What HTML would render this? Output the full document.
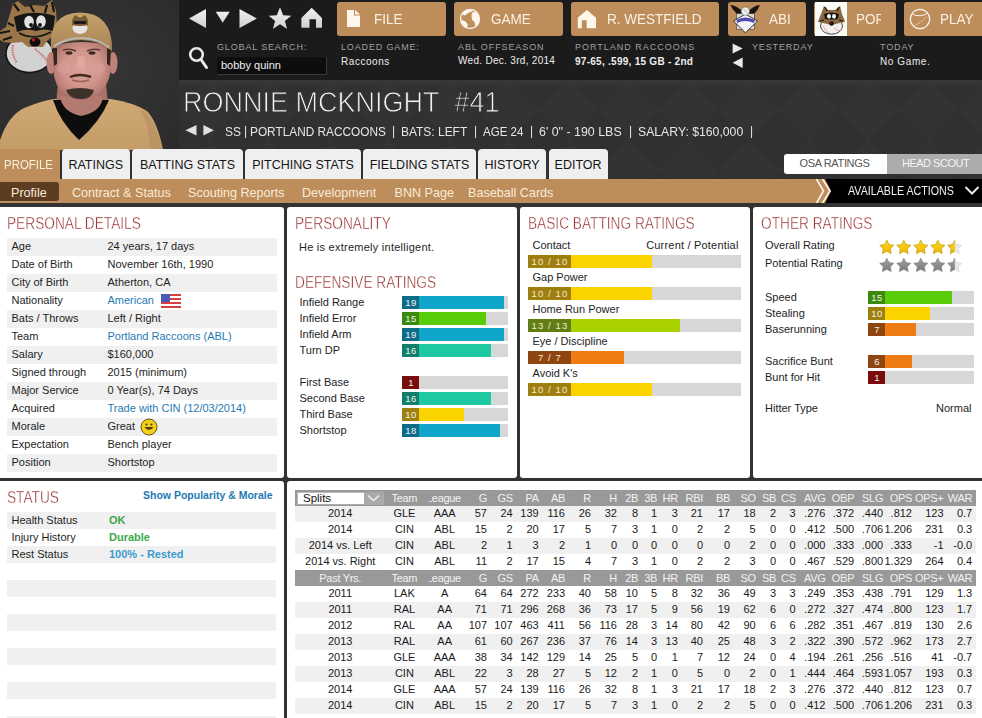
<!DOCTYPE html><html><head><meta charset="utf-8"><style>
*{margin:0;padding:0;box-sizing:border-box}
html,body{width:982px;height:718px;overflow:hidden;background:#333}
body{position:relative;font-family:"Liberation Sans",sans-serif;color:#111}
.ab{position:absolute;white-space:nowrap}
.btn{position:absolute;top:2px;height:34px;background:#be8d5c;border-radius:3px;overflow:hidden}
.btxt{position:absolute;top:8px;font-size:15px;color:#fbf1e2;white-space:nowrap;transform:scaleX(0.9);transform-origin:0 0}
.lbl{position:absolute;top:42px;font-size:9px;color:#a0a0a0;letter-spacing:0.85px;white-space:nowrap}
.val{position:absolute;top:55.5px;font-size:10px;color:#ededed;font-weight:bold;letter-spacing:0.1px;white-space:nowrap}
.tab{position:absolute;top:149px;height:30px;background:#efefef;border-radius:4px 4px 0 0;font-size:12.5px;color:#151515;line-height:32px;text-align:center;white-space:nowrap}
.sub{position:absolute;top:185.5px;font-size:12.6px;color:#f9ebd6;white-space:nowrap}
.panel{position:absolute;background:#fff;border-radius:3px;overflow:hidden}
.h2{position:absolute;margin-top:1px;font-size:16px;color:#952828;-webkit-text-stroke:0.4px #fff;white-space:nowrap;transform:scaleX(0.855);transform-origin:0 0}
.rw{position:absolute;height:18px;font-size:11px;line-height:16px;color:#1e1e1e;white-space:nowrap}
.g{background:#f0f0f0}
.lk{color:#1f7ab4}
.tx{position:absolute;margin-top:-1px;font-size:11px;color:#1e1e1e;white-space:nowrap}
.bar{position:absolute;height:13px;background:#d7d7d7}
.bar i{position:absolute;left:0;top:0;height:13px;display:block}
.bar b{position:absolute;left:0;top:0;height:13px;width:17px;font-weight:normal;font-size:9.5px;color:#eef4f0;text-align:center;line-height:13px;padding-left:1px;letter-spacing:0.4px}
.bb{position:absolute;height:13px;background:#d7d7d7}
.bb i{position:absolute;left:0;top:0;height:13px;display:block}
.bb b{position:absolute;left:0;top:0;height:13px;width:43px;font-weight:normal;font-size:9.5px;color:#f2ecd0;text-align:center;line-height:13px;letter-spacing:1.1px;padding-left:1px}
.tr{position:absolute;left:295px;width:681px;height:16px}
.c{position:absolute;top:-1px;font-size:11px;line-height:16px;color:#1a1a1a;white-space:nowrap}
.hd .c{color:#f3f3f3;font-size:11px;top:0;letter-spacing:-0.3px}
</style></head><body>

<div class="ab" style="left:0;top:0;width:982px;height:179px;background:#303030"></div>
<svg class="ab" style="left:179px;top:80px" width="803" height="100"><defs><pattern id="dp" width="60" height="60" patternUnits="userSpaceOnUse"><path d="M30 0 L60 30 L30 60 L0 30Z" fill="#333333"/></pattern><linearGradient id="tg" x1="0" y1="0" x2="0" y2="1"><stop offset="0" stop-color="#3a3a3a" stop-opacity="0.8"/><stop offset="1" stop-color="#3a3a3a" stop-opacity="0"/></linearGradient></defs><rect width="803" height="100" fill="url(#dp)"/><rect width="803" height="8" fill="url(#tg)"/></svg>
<svg class="ab" style="left:0;top:0" width="179" height="150" viewBox="0 0 179 150">
<defs>
<radialGradient id="sk" cx="0.5" cy="0.45" r="0.6"><stop offset="0" stop-color="#dba29a"/><stop offset="0.55" stop-color="#d0948c"/><stop offset="0.85" stop-color="#b57a70"/><stop offset="1" stop-color="#8e5a52"/></radialGradient>
<linearGradient id="sh" x1="0" y1="0" x2="0" y2="1"><stop offset="0" stop-color="#cfa873"/><stop offset="1" stop-color="#c39c68"/></linearGradient>
<linearGradient id="cp" x1="0" y1="0" x2="0" y2="1"><stop offset="0" stop-color="#c4a06a"/><stop offset="1" stop-color="#a88455"/></linearGradient>
<filter id="soft" x="-5%" y="-5%" width="110%" height="110%"><feGaussianBlur stdDeviation="0.5"/></filter><radialGradient id="bgp" cx="0.5" cy="0.45" r="0.75"><stop offset="0" stop-color="#363636"/><stop offset="1" stop-color="#2b2b2b"/></radialGradient>
</defs>
<rect width="179" height="150" fill="url(#bgp)"/>
<g filter="url(#soft)">
<!-- raccoon logo -->
<ellipse cx="29.5" cy="53.5" rx="23.5" ry="19" fill="#d2d2d2" stroke="#151515" stroke-width="1.6"/>
<path d="M13 45 Q11 54 17 63" stroke="#c66" stroke-width="2.2" fill="none" stroke-dasharray="1.2 1.2"/>
<path d="M35 49 Q43 55 48 62" stroke="#c66" stroke-width="2.2" fill="none" stroke-dasharray="1.2 1.2"/>
<path d="M13 4 L18 1 L25 7 L35 5 L44 6 L52 0 L56 10 L57 26 L53 36 L47 41 L43 47 L28 47 L22 42 L12 43 L4 42 L0 40 L0 31 L6 27 L9 17Z" fill="#9a7448"/>
<path d="M14 4 L19 11 M47 5 L45 13 M52 2 L54 12 M0 33 L10 31 M3 40 L12 37 M8 23 L14 26 M30 5 L34 12" stroke="#151515" stroke-width="2.2"/>
<path d="M14 17 Q32 9 55 16 L53 31 Q44 28 36 31 Q26 28 17 32Z" fill="#151515"/>
<ellipse cx="29" cy="22" rx="4.8" ry="6.2" fill="#e2e2e2"/><ellipse cx="41" cy="21.5" rx="4.8" ry="6.2" fill="#e2e2e2"/>
<circle cx="31" cy="25" r="1.9" fill="#111"/><circle cx="40" cy="25" r="1.9" fill="#111"/>
<path d="M19 33 Q34 41 51 32" stroke="#151515" stroke-width="1.5" fill="none"/>
<ellipse cx="35" cy="42" rx="5.5" ry="4.6" fill="#0e0e0e"/><circle cx="33.5" cy="39.8" r="1.6" fill="#c22"/>
<!-- shirt -->
<path d="M0 150 L0 140 Q8 116 24 108 Q44 100 54 99 L110 99 Q136 103 148 112 Q158 124 163 150Z" fill="url(#sh)"/>
<path d="M146 112 Q156 124 163 150 L150 150 Q150 126 140 110Z" fill="#b48e60" opacity="0.6"/>
<!-- neck -->
<path d="M58 84 L106 84 L108 104 Q82 112 56 104Z" fill="#a9716a"/>
<path d="M53 100 L109 100 Q100 122 79 140 Q60 122 53 100Z" fill="#0b0b0b"/>
<path d="M60 96 L103 96 Q102 112 81 116 Q62 112 60 96Z" fill="#b27a70"/>
<!-- ears -->
<ellipse cx="51" cy="63" rx="4.5" ry="11" fill="#bf8178"/><ellipse cx="113" cy="63" rx="4.5" ry="11" fill="#bf8178"/>
<!-- face -->
<path d="M53 46 Q82 38 111 46 L111 70 Q108 88 97 95 Q88 100 81 100 Q73 100 65 95 Q55 88 53 70Z" fill="url(#sk)"/>
<path d="M53 48 L57 48 L57 64 L54 66Z M111 48 L107 48 L107 64 L110 66Z" fill="#35261f"/>
<path d="M63 50 Q70 48 76 51 M87 51 Q93 48 100 50" stroke="#5a3a30" stroke-width="1.6" fill="none"/>
<ellipse cx="69" cy="53" rx="3.5" ry="1.7" fill="#3e2822"/><ellipse cx="92" cy="53" rx="3.5" ry="1.7" fill="#3e2822"/>
<path d="M78 56 L76 67 Q81 70 86 67 L84 56" fill="#dfa79e"/>
<ellipse cx="64" cy="68" rx="7" ry="6" fill="#e0a0a0" opacity="0.5"/><ellipse cx="98" cy="68" rx="7" ry="6" fill="#e0a0a0" opacity="0.5"/>
<path d="M70 77 Q80 73 91 77" stroke="#402a24" stroke-width="2.4" fill="none"/>
<path d="M72 80 Q81 83 89 80" stroke="#a0605a" stroke-width="1.6" fill="none"/>
<path d="M66 90 Q80 86 94 90 Q92 99 81 99 Q69 99 66 90Z" fill="#3c302c"/>
<!-- cap -->
<path d="M51 50 Q48 13 80 12.5 Q113 13 112 51 Q100 40 81 40 Q62 40 51 50Z" fill="url(#cp)"/>
<path d="M54 48 Q66 39 81 39 Q98 39 109 49 L109 46 Q96 37 81 37 Q66 37 54 45Z" fill="#b8b8b0"/>
<ellipse cx="80" cy="28" rx="7.5" ry="6" fill="#e4e4e4"/>
<path d="M72 20 L75 15 L80 18 L85 15 L88 20 L88 25 Q80 27 72 25Z" fill="#7a5a30"/>
<path d="M74 21 L86 21 L86 24 L74 24Z" fill="#1a1a1a"/>
</g></svg>
<div class="ab" style="left:179px;top:0;width:803px;height:80px;background:#1b1b1b"></div>
<svg class="ab" style="left:179px;top:0" width="160" height="79">
<defs><linearGradient id="ic" x1="0" y1="0" x2="0" y2="1"><stop offset="0" stop-color="#f2f2f2"/><stop offset="1" stop-color="#cfcfcf"/></linearGradient></defs>
<path d="M10 18.5 L27 9 L27 28Z" fill="url(#ic)"/>
<path d="M36.8 11.7 L50.7 11.7 L43.7 22.8Z" fill="url(#ic)"/>
<path d="M60.5 9 L77.9 18.5 L60.5 28Z" fill="url(#ic)"/>
<path d="M101 7.3 L104.1 15.3 L112.3 15.7 L105.9 20.9 L108.1 29 L101 24.3 L93.9 29 L96.1 20.9 L89.7 15.7 L97.9 15.3Z" fill="url(#ic)"/>
<path d="M122.4 17.9 L132.7 7.8 L143 17.9 L143 27.7 L137 27.7 L137 19.2 L130.5 19.2 L130.5 27.7 L122.4 27.7Z" fill="url(#ic)"/>
<circle cx="17.5" cy="54.5" r="6.3" stroke="#eaeaea" stroke-width="2.6" fill="none"/>
<path d="M22 59.5 L27.5 67.5" stroke="#eaeaea" stroke-width="3" stroke-linecap="round"/>
</svg>
<div class="btn" style="left:337px;width:109px"><span class="btxt" style="left:37px">FILE</span></div>
<div class="btn" style="left:454px;width:109px"><span class="btxt" style="left:37px">GAME</span></div>
<div class="btn" style="left:571px;width:148px"><span class="btxt" style="left:36px">R. WESTFIELD</span></div>
<div class="btn" style="left:728px;width:78px"><span class="btxt" style="left:41px">ABI</span></div>
<div class="btn" style="left:814px;width:82px"><div style="position:absolute;left:42px;top:0;width:25px;height:34px;overflow:hidden"><span class="btxt" style="left:0">POR</span></div></div>
<div class="btn" style="left:904px;width:90px"><span class="btxt" style="left:36px">PLAY</span></div>
<svg class="ab" style="left:337px;top:0" width="645" height="38">
<path d="M10 10 L17 10 L17 15.5 L23 15.5 L23 27 L10 27Z" fill="#fdf6ea"/>
<path d="M18 10 L23 14.5 L18 14.5Z" fill="#fdf6ea"/>
<circle cx="133" cy="19" r="9.5" stroke="#fdf6ea" stroke-width="1.3" fill="none"/>
<path d="M125.5 13 Q129 9.5 134 9.5 L135 11.5 L131 13 L128 15.5 L126 15Z" fill="#fdf6ea"/><path d="M124 19.5 L128.5 21.5 L131 24.5 L129.5 28.5 Q125 26 124 19.5Z" fill="#fdf6ea"/>
<path d="M135 12.5 L139 12 L141.5 15 L142.5 19 L141 24 L138.5 26.5 L137.5 22 L135 20 L134.5 16Z" fill="#fdf6ea"/>
<path d="M240.8 17.8 L249.9 10 L259 17.8 L259 28.2 L249.7 28.2 L249.7 20.3 L244.8 20.3 L244.8 28.2 L240.8 28.2Z" fill="#fdf6ea"/>
<circle cx="583" cy="19" r="9.7" stroke="#fdf6ea" stroke-width="1.3" fill="none"/>
<path d="M575 14 Q583 18 591 13" stroke="#fdf6ea" stroke-width="1" fill="none"/>
<path d="M577 26 Q585 22 590 16" stroke="#fdf6ea" stroke-width="1" fill="none" stroke-dasharray="1 1"/>
</svg>
<svg class="ab" style="left:726px;top:2px" width="40" height="34">
<path d="M4.3 2.8 Q10 3 19.4 11.8 L15 14 Q8 11 4.3 2.8Z" fill="#1c1410"/>
<path d="M33.9 3 Q28 3 19.4 11.8 L24 14 Q31 11 33.9 3Z" fill="#1c1410"/>
<rect x="10.4" y="11.6" width="18" height="16" fill="#d8d8d8" stroke="#3a3028" stroke-width="0.6"/>
<path d="M7.6 19 L19.4 12.1 L31.5 19 L19.4 30.8Z" fill="#f4f4f8" stroke="#2a2420" stroke-width="0.9"/>
<path d="M10.5 18 Q19 13 29 18 L28 21 Q19 17 11 21Z" fill="#5048b4"/>
<circle cx="19.4" cy="9.2" r="4.2" fill="#ededed" stroke="#555" stroke-width="0.5"/>
<path d="M17 6.5 L22 11.5" stroke="#999" stroke-width="0.6"/>
</svg>
<svg class="ab" style="left:814.5px;top:2px" width="32.5" height="34">
<rect width="32.5" height="34" fill="#fbfbf8"/>
<ellipse cx="16.5" cy="24" rx="11" ry="8.2" fill="#f4f0f0" stroke="#333" stroke-width="0.9"/>
<path d="M8 24 Q10 29 14 31 M19 26 Q23 30 27 28" stroke="#e0a0a0" stroke-width="0.9" fill="none"/>
<path d="M9 4 L13 8 L20 8 L25 4 L27 12 L29 17 L30 20 L25 21 L16.5 23 L8 21 L3 20 L4 17 L6 12Z" fill="#8c6a44"/>
<path d="M10 5 L12 9 M24 5 L22 9 M5 19 L9 18 M28 19 L24 18" stroke="#1a1410" stroke-width="1.2"/>
<path d="M9 12 Q16.5 9 24 12 L23 17 Q16.5 18 10 17Z" fill="#1a1410"/>
<ellipse cx="14" cy="14.3" rx="2" ry="2.4" fill="#f2f2f2"/><ellipse cx="19" cy="14.3" rx="2" ry="2.4" fill="#f2f2f2"/>
<circle cx="16.5" cy="21.5" r="2.2" fill="#120808"/><circle cx="16" cy="21" r="0.8" fill="#a02020"/>
</svg>
<span class="lbl" style="left:217px">GLOBAL SEARCH:</span>
<div class="ab" style="left:217px;top:57px;width:110px;height:18px;background:#0d0d0d;border:1px solid #3a3a3a;border-top-color:#111;border-left-color:#111"></div>
<span class="ab" style="left:221px;top:59px;font-size:11px;color:#f0f0f0">bobby quinn</span>
<span class="lbl" style="left:341px">LOADED GAME:</span><span class="val" style="left:341px;font-weight:normal;letter-spacing:0.55px">Raccoons</span>
<span class="lbl" style="left:458px;letter-spacing:0.91px">ABL OFFSEASON</span><span class="val" style="left:458px;letter-spacing:0.3px;font-weight:normal;font-size:10px;top:55px">Wed. Dec. 3rd, 2014</span>
<span class="lbl" style="left:575px;letter-spacing:0.99px">PORTLAND RACCOONS</span><span class="val" style="left:575px;letter-spacing:0.27px">97-65, .599, 15 GB - 2nd</span>
<span class="lbl" style="left:752px">YESTERDAY</span>
<span class="lbl" style="left:880px">TODAY</span><span class="val" style="left:880px;font-weight:normal;letter-spacing:0.6px">No Game.</span>
<svg class="ab" style="left:730px;top:40px" width="16" height="32">
<path d="M2.6 3.6 L12.7 8.5 L2.6 13.4Z" fill="#eaeaea"/>
<path d="M12.7 17.4 L2.6 22.7 L12.7 28Z" fill="#eaeaea"/>
</svg>
<span class="ab" style="left:183px;top:84.5px;font-size:30px;color:#f2f2f2;-webkit-text-stroke:0.9px #313131;transform:scaleX(0.9);transform-origin:0 0">RONNIE MCKNIGHT&nbsp; #41</span>
<svg class="ab" style="left:180px;top:120px" width="40" height="20">
<path d="M5.4 10.2 L16.5 5 L16.5 15.4Z" fill="#e0e0e0"/>
<path d="M23.4 5 L33.8 10.2 L23.4 15.4Z" fill="#e0e0e0"/>
</svg>
<span class="ab" style="left:224.5px;top:124px;font-size:13px;color:#e6e6e6;transform:scaleX(0.92);transform-origin:0 0">SS</span><span class="ab" style="left:244.0px;top:123px;font-size:13px;color:#e6e6e6;transform:scaleX(0.92);transform-origin:0 0">|</span><span class="ab" style="left:250px;top:124px;font-size:13px;color:#e6e6e6;transform:scaleX(0.911);transform-origin:0 0">PORTLAND RACCOONS</span><span class="ab" style="left:391.8px;top:123px;font-size:13px;color:#e6e6e6;transform:scaleX(0.92);transform-origin:0 0">|</span><span class="ab" style="left:401px;top:124px;font-size:13px;color:#e6e6e6;transform:scaleX(0.92);transform-origin:0 0">BATS: LEFT</span><span class="ab" style="left:473.6px;top:123px;font-size:13px;color:#e6e6e6;transform:scaleX(0.92);transform-origin:0 0">|</span><span class="ab" style="left:482.5px;top:124px;font-size:13px;color:#e6e6e6;transform:scaleX(0.889);transform-origin:0 0">AGE 24</span><span class="ab" style="left:529.5px;top:123px;font-size:13px;color:#e6e6e6;transform:scaleX(0.92);transform-origin:0 0">|</span><span class="ab" style="left:538.5px;top:124px;font-size:13px;color:#e6e6e6;transform:scaleX(0.9545);transform-origin:0 0">6&#39; 0&quot; - 190 LBS</span><span class="ab" style="left:628.8px;top:123px;font-size:13px;color:#e6e6e6;transform:scaleX(0.92);transform-origin:0 0">|</span><span class="ab" style="left:637.5px;top:124px;font-size:13px;color:#e6e6e6;transform:scaleX(0.941);transform-origin:0 0">SALARY: $160,000</span><span class="ab" style="left:750.0px;top:123px;font-size:13px;color:#e6e6e6;transform:scaleX(0.92);transform-origin:0 0">|</span>
<div class="ab" style="left:0;top:149px;width:60px;height:30px;background:#be8d5c"></div>
<span class="ab" style="left:3.5px;top:157px;font-size:13px;color:#fbf0e0;transform:scaleX(0.88);transform-origin:0 0">PROFILE</span>
<div class="tab" style="left:61.5px;width:68.5px">RATINGS</div>
<div class="tab" style="left:132px;width:111px">BATTING STATS</div>
<div class="tab" style="left:245px;width:116px">PITCHING STATS</div>
<div class="tab" style="left:363px;width:113px">FIELDING STATS</div>
<div class="tab" style="left:478px;width:68px">HISTORY</div>
<div class="tab" style="left:548.5px;width:59.10000000000002px">EDITOR</div>
<div class="ab" style="left:887px;top:153.5px;width:95px;height:20px;background:#acacac"></div>
<div class="ab" style="left:784px;top:153.5px;width:103px;height:20px;background:#fff;border-radius:3px 0 0 3px"></div>
<span class="ab" style="left:799.5px;top:157px;font-size:11px;color:#555;letter-spacing:-0.35px;transform:scaleX(1);">OSA RATINGS</span>
<span class="ab" style="left:902px;top:157px;font-size:11px;color:#f4f4f4;letter-spacing:-0.5px">HEAD SCOUT</span>
<div class="ab" style="left:0;top:179px;width:982px;height:24px;background:#000"></div>
<svg class="ab" style="left:0;top:179px" width="982" height="24">
<path d="M0 0 L825 0 L831 12 L825 24 L0 24Z" fill="#be8d5c"/>
<path d="M816.5 0 L823.5 12 L816.5 24" stroke="#fff6ea" stroke-width="1.6" fill="none"/>
<path d="M822.5 0 L830 12 L822.5 24" stroke="#fff6ea" stroke-width="1.6" fill="none"/>
<path d="M965.5 8 L972 14.5 L978.5 8" stroke="#e8e8e8" stroke-width="2" fill="none"/>
</svg>
<div class="ab" style="left:0;top:182px;width:59px;height:19px;background:#5c3d22;border-radius:0 3px 3px 0"></div>
<span class="sub" style="left:11px">Profile</span>
<span class="sub" style="left:72px">Contract &amp; Status</span>
<span class="sub" style="left:188px">Scouting Reports</span>
<span class="sub" style="left:302px">Development</span>
<span class="sub" style="left:394.5px">BNN Page</span>
<span class="sub" style="left:468px">Baseball Cards</span>
<span class="ab" style="left:848px;top:183.5px;font-size:12px;color:#f2f2f2;transform:scaleX(0.89);transform-origin:0 0">AVAILABLE ACTIONS</span>
<div class="ab" style="left:0;top:203px;width:982px;height:515px;background:#333"></div>
<div class="panel" style="left:0;top:207px;width:284px;height:271px;border-radius:0 3px 3px 0"></div>
<div class="panel" style="left:287px;top:207px;width:230px;height:271px"></div>
<div class="panel" style="left:520px;top:207px;width:230px;height:271px"></div>
<div class="panel" style="left:753px;top:207px;width:229px;height:271px;border-radius:3px 0 0 3px"></div>
<div class="panel" style="left:0;top:481px;width:284px;height:237px;border-radius:0 3px 0 0"></div>
<div class="panel" style="left:287px;top:481px;width:695px;height:237px;border-radius:3px 0 0 0"></div>
<span class="h2" style="left:7px;top:214px">PERSONAL DETAILS</span>
<div class="rw g" style="left:7px;top:238px;width:270px"><span style="position:absolute;left:4.5px">Age</span><span style="position:absolute;left:100.5px">24 years, 17 days</span></div>
<div class="rw" style="left:7px;top:256px;width:270px"><span style="position:absolute;left:4.5px">Date of Birth</span><span style="position:absolute;left:100.5px">November 16th, 1990</span></div>
<div class="rw g" style="left:7px;top:274px;width:270px"><span style="position:absolute;left:4.5px">City of Birth</span><span style="position:absolute;left:100.5px">Atherton, CA</span></div>
<div class="rw" style="left:7px;top:292px;width:270px"><span style="position:absolute;left:4.5px">Nationality</span><span style="position:absolute;left:100.5px"><span class="lk">American</span></span></div>
<div class="rw g" style="left:7px;top:310px;width:270px"><span style="position:absolute;left:4.5px">Bats / Throws</span><span style="position:absolute;left:100.5px">Left / Right</span></div>
<div class="rw" style="left:7px;top:328px;width:270px"><span style="position:absolute;left:4.5px">Team</span><span style="position:absolute;left:100.5px"><span class="lk">Portland Raccoons (ABL)</span></span></div>
<div class="rw g" style="left:7px;top:346px;width:270px"><span style="position:absolute;left:4.5px">Salary</span><span style="position:absolute;left:100.5px">$160,000</span></div>
<div class="rw" style="left:7px;top:364px;width:270px"><span style="position:absolute;left:4.5px">Signed through</span><span style="position:absolute;left:100.5px">2015 (minimum)</span></div>
<div class="rw g" style="left:7px;top:382px;width:270px"><span style="position:absolute;left:4.5px">Major Service</span><span style="position:absolute;left:100.5px">0 Year(s), 74 Days</span></div>
<div class="rw" style="left:7px;top:400px;width:270px"><span style="position:absolute;left:4.5px">Acquired</span><span style="position:absolute;left:100.5px"><span class="lk">Trade with CIN (12/03/2014)</span></span></div>
<div class="rw g" style="left:7px;top:418px;width:270px"><span style="position:absolute;left:4.5px">Morale</span><span style="position:absolute;left:100.5px">Great</span></div>
<div class="rw" style="left:7px;top:436px;width:270px"><span style="position:absolute;left:4.5px">Expectation</span><span style="position:absolute;left:100.5px">Bench player</span></div>
<div class="rw g" style="left:7px;top:454px;width:270px"><span style="position:absolute;left:4.5px">Position</span><span style="position:absolute;left:100.5px">Shortstop</span></div>
<svg class="ab" style="left:161px;top:294px" width="20" height="14">
<rect width="20" height="14" rx="1.5" fill="#fff"/>
<rect y="0" width="20" height="2" fill="#d8403f"/><rect y="4" width="20" height="2" fill="#d8403f"/><rect y="8" width="20" height="2" fill="#d8403f"/><rect y="12" width="20" height="2" fill="#d8403f"/>
<rect width="9" height="8" fill="#4a5bb5"/>
</svg>
<svg class="ab" style="left:140px;top:418px" width="18" height="18">
<circle cx="9" cy="9" r="8" fill="#f2cf1a" stroke="#6a5a10" stroke-width="1"/>
<path d="M4.5 9 Q9 15 13.5 9Z" fill="#5a3a10"/>
<circle cx="6.5" cy="6.5" r="1" fill="#333"/><circle cx="11.5" cy="6.5" r="1" fill="#333"/>
</svg>
<span class="h2" style="left:295px;top:214px">PERSONALITY</span>
<span class="tx" style="left:299px;top:242px;letter-spacing:0.25px">He is extremely intelligent.</span>
<span class="h2" style="left:295px;top:273px">DEFENSIVE RATINGS</span>
<span class="tx" style="left:299.5px;top:296px;line-height:14px">Infield Range</span>
<div class="bar" style="left:402px;top:296px;width:106px"><i style="width:102.0px;background:#0fa6c9"></i><b style="background:#0e6c88">19</b></div>
<span class="tx" style="left:299.5px;top:312px;line-height:14px">Infield Error</span>
<div class="bar" style="left:402px;top:312px;width:106px"><i style="width:84.0px;background:#5acd0a"></i><b style="background:#3b8a0c">15</b></div>
<span class="tx" style="left:299.5px;top:328px;line-height:14px">Infield Arm</span>
<div class="bar" style="left:402px;top:328px;width:106px"><i style="width:102.0px;background:#0fa6c9"></i><b style="background:#0e6c88">19</b></div>
<span class="tx" style="left:299.5px;top:344px;line-height:14px">Turn DP</span>
<div class="bar" style="left:402px;top:344px;width:106px"><i style="width:88.5px;background:#1ec8a0"></i><b style="background:#137e69">16</b></div>
<span class="tx" style="left:299.5px;top:376px;line-height:14px">First Base</span>
<div class="bar" style="left:402px;top:376px;width:106px"><i style="width:17px;background:#7a0c0c"></i><b style="background:#7a0c0c">1</b></div>
<span class="tx" style="left:299.5px;top:392px;line-height:14px">Second Base</span>
<div class="bar" style="left:402px;top:392px;width:106px"><i style="width:88.5px;background:#1ec8a0"></i><b style="background:#137e69">16</b></div>
<span class="tx" style="left:299.5px;top:408px;line-height:14px">Third Base</span>
<div class="bar" style="left:402px;top:408px;width:106px"><i style="width:61.5px;background:#fbd300"></i><b style="background:#9f7f0e">10</b></div>
<span class="tx" style="left:299.5px;top:424px;line-height:14px">Shortstop</span>
<div class="bar" style="left:402px;top:424px;width:106px"><i style="width:97.5px;background:#0fa6c9"></i><b style="background:#0e6c88">18</b></div>
<span class="h2" style="left:528px;top:214px">BASIC BATTING RATINGS</span>
<span class="tx" style="left:738.6px;top:240px;letter-spacing:0.2px;transform:translateX(-100%)">Current / Potential</span>
<span class="tx" style="left:532.5px;top:239px;line-height:14px">Contact</span>
<div class="bb" style="left:528px;top:255px;width:213px"><i style="width:124.0px;background:#fbd300"></i><b style="background:#9f7f0e">10 / 10</b></div>
<span class="tx" style="left:532.5px;top:271px;line-height:14px">Gap Power</span>
<div class="bb" style="left:528px;top:287px;width:213px"><i style="width:124.0px;background:#fbd300"></i><b style="background:#9f7f0e">10 / 10</b></div>
<span class="tx" style="left:532.5px;top:303px;line-height:14px">Home Run Power</span>
<div class="bb" style="left:528px;top:319px;width:213px"><i style="width:151.6px;background:#a9d000"></i><b style="background:#607e14">13 / 13</b></div>
<span class="tx" style="left:532.5px;top:335px;line-height:14px">Eye / Discipline</span>
<div class="bb" style="left:528px;top:351px;width:213px"><i style="width:96.39999999999999px;background:#ef7c13"></i><b style="background:#8e4510">7 / 7</b></div>
<span class="tx" style="left:532.5px;top:367px;line-height:14px">Avoid K's</span>
<div class="bb" style="left:528px;top:383px;width:213px"><i style="width:124.0px;background:#fbd300"></i><b style="background:#9f7f0e">10 / 10</b></div>
<span class="h2" style="left:761px;top:214px">OTHER RATINGS</span>
<span class="tx" style="left:765px;top:239px;line-height:14px">Overall Rating</span>
<span class="tx" style="left:765px;top:257px;line-height:14px">Potential Rating</span>
<svg class="ab" style="left:870px;top:235px" width="100" height="40"><defs><linearGradient id="gs" x1="0" y1="0" x2="0" y2="1"><stop offset="0" stop-color="#ffdc20"/><stop offset="1" stop-color="#eeb400"/></linearGradient><linearGradient id="ss" x1="0" y1="0" x2="0" y2="1"><stop offset="0" stop-color="#a0a0a0"/><stop offset="1" stop-color="#7a7a7a"/></linearGradient><clipPath id="hl"><rect x="0" y="0" width="84.8" height="40"/></clipPath></defs><polygon points="16.80,5.20 18.97,9.61 23.84,10.31 20.32,13.74 21.15,18.59 16.80,16.30 12.45,18.59 13.28,13.74 9.76,10.31 14.63,9.61" fill="url(#gs)" stroke="#c9a010" stroke-width="0.8" stroke-linejoin="round"/><polygon points="33.80,5.20 35.97,9.61 40.84,10.31 37.32,13.74 38.15,18.59 33.80,16.30 29.45,18.59 30.28,13.74 26.76,10.31 31.63,9.61" fill="url(#gs)" stroke="#c9a010" stroke-width="0.8" stroke-linejoin="round"/><polygon points="50.80,5.20 52.97,9.61 57.84,10.31 54.32,13.74 55.15,18.59 50.80,16.30 46.45,18.59 47.28,13.74 43.76,10.31 48.63,9.61" fill="url(#gs)" stroke="#c9a010" stroke-width="0.8" stroke-linejoin="round"/><polygon points="67.80,5.20 69.97,9.61 74.84,10.31 71.32,13.74 72.15,18.59 67.80,16.30 63.45,18.59 64.28,13.74 60.76,10.31 65.63,9.61" fill="url(#gs)" stroke="#c9a010" stroke-width="0.8" stroke-linejoin="round"/><polygon points="84.80,5.20 86.97,9.61 91.84,10.31 88.32,13.74 89.15,18.59 84.80,16.30 80.45,18.59 81.28,13.74 77.76,10.31 82.63,9.61" fill="#e6e6e6" stroke="#dcdcdc" stroke-width="0.8" stroke-linejoin="round"/><polygon points="84.80,5.20 86.97,9.61 91.84,10.31 88.32,13.74 89.15,18.59 84.80,16.30 80.45,18.59 81.28,13.74 77.76,10.31 82.63,9.61" fill="url(#gs)" stroke="#c9a010" stroke-width="0.8" stroke-linejoin="round" clip-path="url(#hl)"/><polygon points="16.80,23.20 18.97,27.61 23.84,28.31 20.32,31.74 21.15,36.59 16.80,34.30 12.45,36.59 13.28,31.74 9.76,28.31 14.63,27.61" fill="url(#ss)" stroke="#8a8a8a" stroke-width="0.8" stroke-linejoin="round"/><polygon points="33.80,23.20 35.97,27.61 40.84,28.31 37.32,31.74 38.15,36.59 33.80,34.30 29.45,36.59 30.28,31.74 26.76,28.31 31.63,27.61" fill="url(#ss)" stroke="#8a8a8a" stroke-width="0.8" stroke-linejoin="round"/><polygon points="50.80,23.20 52.97,27.61 57.84,28.31 54.32,31.74 55.15,36.59 50.80,34.30 46.45,36.59 47.28,31.74 43.76,28.31 48.63,27.61" fill="url(#ss)" stroke="#8a8a8a" stroke-width="0.8" stroke-linejoin="round"/><polygon points="67.80,23.20 69.97,27.61 74.84,28.31 71.32,31.74 72.15,36.59 67.80,34.30 63.45,36.59 64.28,31.74 60.76,28.31 65.63,27.61" fill="url(#ss)" stroke="#8a8a8a" stroke-width="0.8" stroke-linejoin="round"/><polygon points="84.80,23.20 86.97,27.61 91.84,28.31 88.32,31.74 89.15,36.59 84.80,34.30 80.45,36.59 81.28,31.74 77.76,28.31 82.63,27.61" fill="#e6e6e6" stroke="#dcdcdc" stroke-width="0.8" stroke-linejoin="round"/><polygon points="84.80,23.20 86.97,27.61 91.84,28.31 88.32,31.74 89.15,36.59 84.80,34.30 80.45,36.59 81.28,31.74 77.76,28.31 82.63,27.61" fill="url(#ss)" stroke="#8a8a8a" stroke-width="0.8" stroke-linejoin="round" clip-path="url(#hl)"/></svg>
<span class="tx" style="left:765px;top:290.5px;line-height:14px">Speed</span>
<div class="bar" style="left:868px;top:290.5px;width:106px"><i style="width:84.0px;background:#5acd0a"></i><b style="background:#3b8a0c">15</b></div>
<span class="tx" style="left:765px;top:307px;line-height:14px">Stealing</span>
<div class="bar" style="left:868px;top:307px;width:106px"><i style="width:61.5px;background:#fbd300"></i><b style="background:#9f7f0e">10</b></div>
<span class="tx" style="left:765px;top:323px;line-height:14px">Baserunning</span>
<div class="bar" style="left:868px;top:323px;width:106px"><i style="width:48.0px;background:#ef7c13"></i><b style="background:#8e4510">7</b></div>
<span class="tx" style="left:765px;top:355px;line-height:14px">Sacrifice Bunt</span>
<div class="bar" style="left:868px;top:355px;width:106px"><i style="width:43.5px;background:#ef7c13"></i><b style="background:#8e4510">6</b></div>
<span class="tx" style="left:765px;top:371px;line-height:14px">Bunt for Hit</span>
<div class="bar" style="left:868px;top:371px;width:106px"><i style="width:17px;background:#7a0c0c"></i><b style="background:#7a0c0c">1</b></div>
<span class="tx" style="left:765px;top:402px;line-height:14px">Hitter Type</span>
<span class="tx" style="left:971.5px;top:402px;line-height:14px;transform:translateX(-100%)">Normal</span>
<span class="h2" style="left:7px;top:488px">STATUS</span>
<span class="ab" style="left:143px;top:489px;font-size:10.5px;font-weight:bold;color:#1f7ab4">Show Popularity &amp; Morale</span>
<div class="rw g" style="left:7px;top:512px;width:269px;height:17px;line-height:17px"><span style="position:absolute;left:4.5px">Health Status</span><span style="position:absolute;left:102px;color:#3da84a;font-weight:bold">OK</span></div>
<div class="rw" style="left:7px;top:529px;width:269px;height:17px;line-height:17px"><span style="position:absolute;left:4.5px">Injury History</span><span style="position:absolute;left:102px;color:#3da84a;font-weight:bold">Durable</span></div>
<div class="rw g" style="left:7px;top:546px;width:269px;height:17px;line-height:17px"><span style="position:absolute;left:4.5px">Rest Status</span><span style="position:absolute;left:102px;color:#3a9bd0;font-weight:bold">100% - Rested</span></div>
<div class="rw" style="left:7px;top:563px;width:269px;height:17px;line-height:17px"></div>
<div class="rw g" style="left:7px;top:580px;width:269px;height:17px;line-height:17px"></div>
<div class="rw" style="left:7px;top:597px;width:269px;height:17px;line-height:17px"></div>
<div class="rw g" style="left:7px;top:614px;width:269px;height:17px;line-height:17px"></div>
<div class="rw" style="left:7px;top:631px;width:269px;height:17px;line-height:17px"></div>
<div class="rw g" style="left:7px;top:648px;width:269px;height:17px;line-height:17px"></div>
<div class="rw" style="left:7px;top:665px;width:269px;height:17px;line-height:17px"></div>
<div class="rw g" style="left:7px;top:682px;width:269px;height:17px;line-height:17px"></div>
<div class="rw" style="left:7px;top:699px;width:269px;height:17px;line-height:17px"></div>
<div class="rw g" style="left:7px;top:716px;width:269px;height:17px;line-height:17px"></div>
<div class="tr hd" style="top:490px;background:#999"><span class="c" style="left:-14.800000000000011px;width:120px;text-align:center"></span><span class="c" style="left:49.39999999999998px;width:120px;text-align:center">Team</span><span class="c" style="left:134px;width:32px;height:16px;overflow:hidden"><span style="position:absolute;left:-3px;top:0">League</span></span><span class="c" style="left:132px;width:60px;text-align:right">G</span><span class="c" style="left:157.70000000000005px;width:60px;text-align:right">GS</span><span class="c" style="left:183.70000000000005px;width:60px;text-align:right">PA</span><span class="c" style="left:210px;width:60px;text-align:right">AB</span><span class="c" style="left:236px;width:60px;text-align:right">R</span><span class="c" style="left:262px;width:60px;text-align:right">H</span><span class="c" style="left:283px;width:60px;text-align:right">2B</span><span class="c" style="left:302px;width:60px;text-align:right">3B</span><span class="c" style="left:322.79999999999995px;width:60px;text-align:right">HR</span><span class="c" style="left:348px;width:60px;text-align:right">RBI</span><span class="c" style="left:375px;width:60px;text-align:right">BB</span><span class="c" style="left:400.70000000000005px;width:60px;text-align:right">SO</span><span class="c" style="left:421px;width:60px;text-align:right">SB</span><span class="c" style="left:440.70000000000005px;width:60px;text-align:right">CS</span><span class="c" style="left:470.5px;width:60px;text-align:right">AVG</span><span class="c" style="left:499.20000000000005px;width:60px;text-align:right">OBP</span><span class="c" style="left:528.2px;width:60px;text-align:right">SLG</span><span class="c" style="left:557px;width:60px;text-align:right">OPS</span><span class="c" style="left:588.5px;width:60px;text-align:right">OPS+</span><span class="c" style="left:617.2px;width:60px;text-align:right">WAR</span></div>
<div class="ab" style="left:296.5px;top:491.5px;width:87px;height:13px;background:#aaa"></div>
<div class="ab" style="left:297px;top:492px;width:67px;height:12px;background:#fff;border-top:1px solid #bbb;border-left:1px solid #bbb"></div>
<span class="ab" style="left:303px;top:491px;font-size:11.5px;line-height:14px;color:#111">Splits</span>
<svg class="ab" style="left:364px;top:492px" width="19" height="12"><path d="M4 3.5 L9.5 8.5 L15 3.5" stroke="#f4f4f4" stroke-width="1.3" fill="none"/></svg>
<div class="tr" style="top:506px;background:#f0f0f0"><span class="c" style="left:-14.800000000000011px;width:120px;text-align:center">2014</span><span class="c" style="left:49.39999999999998px;width:120px;text-align:center">GLE</span><span class="c" style="left:89.69999999999999px;width:120px;text-align:center">AAA</span><span class="c" style="left:132px;width:60px;text-align:right">57</span><span class="c" style="left:157.70000000000005px;width:60px;text-align:right">24</span><span class="c" style="left:183.70000000000005px;width:60px;text-align:right">139</span><span class="c" style="left:210px;width:60px;text-align:right">116</span><span class="c" style="left:236px;width:60px;text-align:right">26</span><span class="c" style="left:262px;width:60px;text-align:right">32</span><span class="c" style="left:283px;width:60px;text-align:right">8</span><span class="c" style="left:302px;width:60px;text-align:right">1</span><span class="c" style="left:322.79999999999995px;width:60px;text-align:right">3</span><span class="c" style="left:348px;width:60px;text-align:right">21</span><span class="c" style="left:375px;width:60px;text-align:right">17</span><span class="c" style="left:400.70000000000005px;width:60px;text-align:right">18</span><span class="c" style="left:421px;width:60px;text-align:right">2</span><span class="c" style="left:440.70000000000005px;width:60px;text-align:right">3</span><span class="c" style="left:470.5px;width:60px;text-align:right">.276</span><span class="c" style="left:499.20000000000005px;width:60px;text-align:right">.372</span><span class="c" style="left:528.2px;width:60px;text-align:right">.440</span><span class="c" style="left:557px;width:60px;text-align:right">.812</span><span class="c" style="left:588.5px;width:60px;text-align:right">123</span><span class="c" style="left:617.2px;width:60px;text-align:right">0.7</span></div>
<div class="tr" style="top:522px;background:#fff"><span class="c" style="left:-14.800000000000011px;width:120px;text-align:center">2014</span><span class="c" style="left:49.39999999999998px;width:120px;text-align:center">CIN</span><span class="c" style="left:89.69999999999999px;width:120px;text-align:center">ABL</span><span class="c" style="left:132px;width:60px;text-align:right">15</span><span class="c" style="left:157.70000000000005px;width:60px;text-align:right">2</span><span class="c" style="left:183.70000000000005px;width:60px;text-align:right">20</span><span class="c" style="left:210px;width:60px;text-align:right">17</span><span class="c" style="left:236px;width:60px;text-align:right">5</span><span class="c" style="left:262px;width:60px;text-align:right">7</span><span class="c" style="left:283px;width:60px;text-align:right">3</span><span class="c" style="left:302px;width:60px;text-align:right">1</span><span class="c" style="left:322.79999999999995px;width:60px;text-align:right">0</span><span class="c" style="left:348px;width:60px;text-align:right">2</span><span class="c" style="left:375px;width:60px;text-align:right">2</span><span class="c" style="left:400.70000000000005px;width:60px;text-align:right">5</span><span class="c" style="left:421px;width:60px;text-align:right">0</span><span class="c" style="left:440.70000000000005px;width:60px;text-align:right">0</span><span class="c" style="left:470.5px;width:60px;text-align:right">.412</span><span class="c" style="left:499.20000000000005px;width:60px;text-align:right">.500</span><span class="c" style="left:528.2px;width:60px;text-align:right">.706</span><span class="c" style="left:557px;width:60px;text-align:right">1.206</span><span class="c" style="left:588.5px;width:60px;text-align:right">231</span><span class="c" style="left:617.2px;width:60px;text-align:right">0.3</span></div>
<div class="tr" style="top:538px;background:#f0f0f0"><span class="c" style="left:-14.800000000000011px;width:120px;text-align:center">2014 vs. Left</span><span class="c" style="left:49.39999999999998px;width:120px;text-align:center">CIN</span><span class="c" style="left:89.69999999999999px;width:120px;text-align:center">ABL</span><span class="c" style="left:132px;width:60px;text-align:right">2</span><span class="c" style="left:157.70000000000005px;width:60px;text-align:right">1</span><span class="c" style="left:183.70000000000005px;width:60px;text-align:right">3</span><span class="c" style="left:210px;width:60px;text-align:right">2</span><span class="c" style="left:236px;width:60px;text-align:right">1</span><span class="c" style="left:262px;width:60px;text-align:right">0</span><span class="c" style="left:283px;width:60px;text-align:right">0</span><span class="c" style="left:302px;width:60px;text-align:right">0</span><span class="c" style="left:322.79999999999995px;width:60px;text-align:right">0</span><span class="c" style="left:348px;width:60px;text-align:right">0</span><span class="c" style="left:375px;width:60px;text-align:right">0</span><span class="c" style="left:400.70000000000005px;width:60px;text-align:right">2</span><span class="c" style="left:421px;width:60px;text-align:right">0</span><span class="c" style="left:440.70000000000005px;width:60px;text-align:right">0</span><span class="c" style="left:470.5px;width:60px;text-align:right">.000</span><span class="c" style="left:499.20000000000005px;width:60px;text-align:right">.333</span><span class="c" style="left:528.2px;width:60px;text-align:right">.000</span><span class="c" style="left:557px;width:60px;text-align:right">.333</span><span class="c" style="left:588.5px;width:60px;text-align:right">-1</span><span class="c" style="left:617.2px;width:60px;text-align:right">-0.0</span></div>
<div class="tr" style="top:554px;background:#fff"><span class="c" style="left:-14.800000000000011px;width:120px;text-align:center">2014 vs. Right</span><span class="c" style="left:49.39999999999998px;width:120px;text-align:center">CIN</span><span class="c" style="left:89.69999999999999px;width:120px;text-align:center">ABL</span><span class="c" style="left:132px;width:60px;text-align:right">11</span><span class="c" style="left:157.70000000000005px;width:60px;text-align:right">2</span><span class="c" style="left:183.70000000000005px;width:60px;text-align:right">17</span><span class="c" style="left:210px;width:60px;text-align:right">15</span><span class="c" style="left:236px;width:60px;text-align:right">4</span><span class="c" style="left:262px;width:60px;text-align:right">7</span><span class="c" style="left:283px;width:60px;text-align:right">3</span><span class="c" style="left:302px;width:60px;text-align:right">1</span><span class="c" style="left:322.79999999999995px;width:60px;text-align:right">0</span><span class="c" style="left:348px;width:60px;text-align:right">2</span><span class="c" style="left:375px;width:60px;text-align:right">2</span><span class="c" style="left:400.70000000000005px;width:60px;text-align:right">3</span><span class="c" style="left:421px;width:60px;text-align:right">0</span><span class="c" style="left:440.70000000000005px;width:60px;text-align:right">0</span><span class="c" style="left:470.5px;width:60px;text-align:right">.467</span><span class="c" style="left:499.20000000000005px;width:60px;text-align:right">.529</span><span class="c" style="left:528.2px;width:60px;text-align:right">.800</span><span class="c" style="left:557px;width:60px;text-align:right">1.329</span><span class="c" style="left:588.5px;width:60px;text-align:right">264</span><span class="c" style="left:617.2px;width:60px;text-align:right">0.4</span></div>
<div class="tr hd" style="top:570px;background:#999"><span class="c" style="left:-14.800000000000011px;width:120px;text-align:center">Past Yrs.</span><span class="c" style="left:49.39999999999998px;width:120px;text-align:center">Team</span><span class="c" style="left:134px;width:32px;height:16px;overflow:hidden"><span style="position:absolute;left:-3px;top:0">League</span></span><span class="c" style="left:132px;width:60px;text-align:right">G</span><span class="c" style="left:157.70000000000005px;width:60px;text-align:right">GS</span><span class="c" style="left:183.70000000000005px;width:60px;text-align:right">PA</span><span class="c" style="left:210px;width:60px;text-align:right">AB</span><span class="c" style="left:236px;width:60px;text-align:right">R</span><span class="c" style="left:262px;width:60px;text-align:right">H</span><span class="c" style="left:283px;width:60px;text-align:right">2B</span><span class="c" style="left:302px;width:60px;text-align:right">3B</span><span class="c" style="left:322.79999999999995px;width:60px;text-align:right">HR</span><span class="c" style="left:348px;width:60px;text-align:right">RBI</span><span class="c" style="left:375px;width:60px;text-align:right">BB</span><span class="c" style="left:400.70000000000005px;width:60px;text-align:right">SO</span><span class="c" style="left:421px;width:60px;text-align:right">SB</span><span class="c" style="left:440.70000000000005px;width:60px;text-align:right">CS</span><span class="c" style="left:470.5px;width:60px;text-align:right">AVG</span><span class="c" style="left:499.20000000000005px;width:60px;text-align:right">OBP</span><span class="c" style="left:528.2px;width:60px;text-align:right">SLG</span><span class="c" style="left:557px;width:60px;text-align:right">OPS</span><span class="c" style="left:588.5px;width:60px;text-align:right">OPS+</span><span class="c" style="left:617.2px;width:60px;text-align:right">WAR</span></div>
<div class="tr" style="top:586px;background:#fff"><span class="c" style="left:-14.800000000000011px;width:120px;text-align:center">2011</span><span class="c" style="left:49.39999999999998px;width:120px;text-align:center">LAK</span><span class="c" style="left:89.69999999999999px;width:120px;text-align:center">A</span><span class="c" style="left:132px;width:60px;text-align:right">64</span><span class="c" style="left:157.70000000000005px;width:60px;text-align:right">64</span><span class="c" style="left:183.70000000000005px;width:60px;text-align:right">272</span><span class="c" style="left:210px;width:60px;text-align:right">233</span><span class="c" style="left:236px;width:60px;text-align:right">40</span><span class="c" style="left:262px;width:60px;text-align:right">58</span><span class="c" style="left:283px;width:60px;text-align:right">10</span><span class="c" style="left:302px;width:60px;text-align:right">5</span><span class="c" style="left:322.79999999999995px;width:60px;text-align:right">8</span><span class="c" style="left:348px;width:60px;text-align:right">32</span><span class="c" style="left:375px;width:60px;text-align:right">36</span><span class="c" style="left:400.70000000000005px;width:60px;text-align:right">49</span><span class="c" style="left:421px;width:60px;text-align:right">3</span><span class="c" style="left:440.70000000000005px;width:60px;text-align:right">3</span><span class="c" style="left:470.5px;width:60px;text-align:right">.249</span><span class="c" style="left:499.20000000000005px;width:60px;text-align:right">.353</span><span class="c" style="left:528.2px;width:60px;text-align:right">.438</span><span class="c" style="left:557px;width:60px;text-align:right">.791</span><span class="c" style="left:588.5px;width:60px;text-align:right">129</span><span class="c" style="left:617.2px;width:60px;text-align:right">1.3</span></div>
<div class="tr" style="top:602px;background:#f0f0f0"><span class="c" style="left:-14.800000000000011px;width:120px;text-align:center">2011</span><span class="c" style="left:49.39999999999998px;width:120px;text-align:center">RAL</span><span class="c" style="left:89.69999999999999px;width:120px;text-align:center">AA</span><span class="c" style="left:132px;width:60px;text-align:right">71</span><span class="c" style="left:157.70000000000005px;width:60px;text-align:right">71</span><span class="c" style="left:183.70000000000005px;width:60px;text-align:right">296</span><span class="c" style="left:210px;width:60px;text-align:right">268</span><span class="c" style="left:236px;width:60px;text-align:right">36</span><span class="c" style="left:262px;width:60px;text-align:right">73</span><span class="c" style="left:283px;width:60px;text-align:right">17</span><span class="c" style="left:302px;width:60px;text-align:right">5</span><span class="c" style="left:322.79999999999995px;width:60px;text-align:right">9</span><span class="c" style="left:348px;width:60px;text-align:right">56</span><span class="c" style="left:375px;width:60px;text-align:right">19</span><span class="c" style="left:400.70000000000005px;width:60px;text-align:right">62</span><span class="c" style="left:421px;width:60px;text-align:right">6</span><span class="c" style="left:440.70000000000005px;width:60px;text-align:right">0</span><span class="c" style="left:470.5px;width:60px;text-align:right">.272</span><span class="c" style="left:499.20000000000005px;width:60px;text-align:right">.327</span><span class="c" style="left:528.2px;width:60px;text-align:right">.474</span><span class="c" style="left:557px;width:60px;text-align:right">.800</span><span class="c" style="left:588.5px;width:60px;text-align:right">123</span><span class="c" style="left:617.2px;width:60px;text-align:right">1.7</span></div>
<div class="tr" style="top:618px;background:#fff"><span class="c" style="left:-14.800000000000011px;width:120px;text-align:center">2012</span><span class="c" style="left:49.39999999999998px;width:120px;text-align:center">RAL</span><span class="c" style="left:89.69999999999999px;width:120px;text-align:center">AA</span><span class="c" style="left:132px;width:60px;text-align:right">107</span><span class="c" style="left:157.70000000000005px;width:60px;text-align:right">107</span><span class="c" style="left:183.70000000000005px;width:60px;text-align:right">463</span><span class="c" style="left:210px;width:60px;text-align:right">411</span><span class="c" style="left:236px;width:60px;text-align:right">56</span><span class="c" style="left:262px;width:60px;text-align:right">116</span><span class="c" style="left:283px;width:60px;text-align:right">28</span><span class="c" style="left:302px;width:60px;text-align:right">3</span><span class="c" style="left:322.79999999999995px;width:60px;text-align:right">14</span><span class="c" style="left:348px;width:60px;text-align:right">80</span><span class="c" style="left:375px;width:60px;text-align:right">42</span><span class="c" style="left:400.70000000000005px;width:60px;text-align:right">90</span><span class="c" style="left:421px;width:60px;text-align:right">6</span><span class="c" style="left:440.70000000000005px;width:60px;text-align:right">6</span><span class="c" style="left:470.5px;width:60px;text-align:right">.282</span><span class="c" style="left:499.20000000000005px;width:60px;text-align:right">.351</span><span class="c" style="left:528.2px;width:60px;text-align:right">.467</span><span class="c" style="left:557px;width:60px;text-align:right">.819</span><span class="c" style="left:588.5px;width:60px;text-align:right">130</span><span class="c" style="left:617.2px;width:60px;text-align:right">2.6</span></div>
<div class="tr" style="top:634px;background:#f0f0f0"><span class="c" style="left:-14.800000000000011px;width:120px;text-align:center">2013</span><span class="c" style="left:49.39999999999998px;width:120px;text-align:center">RAL</span><span class="c" style="left:89.69999999999999px;width:120px;text-align:center">AA</span><span class="c" style="left:132px;width:60px;text-align:right">61</span><span class="c" style="left:157.70000000000005px;width:60px;text-align:right">60</span><span class="c" style="left:183.70000000000005px;width:60px;text-align:right">267</span><span class="c" style="left:210px;width:60px;text-align:right">236</span><span class="c" style="left:236px;width:60px;text-align:right">37</span><span class="c" style="left:262px;width:60px;text-align:right">76</span><span class="c" style="left:283px;width:60px;text-align:right">14</span><span class="c" style="left:302px;width:60px;text-align:right">3</span><span class="c" style="left:322.79999999999995px;width:60px;text-align:right">13</span><span class="c" style="left:348px;width:60px;text-align:right">40</span><span class="c" style="left:375px;width:60px;text-align:right">25</span><span class="c" style="left:400.70000000000005px;width:60px;text-align:right">48</span><span class="c" style="left:421px;width:60px;text-align:right">3</span><span class="c" style="left:440.70000000000005px;width:60px;text-align:right">2</span><span class="c" style="left:470.5px;width:60px;text-align:right">.322</span><span class="c" style="left:499.20000000000005px;width:60px;text-align:right">.390</span><span class="c" style="left:528.2px;width:60px;text-align:right">.572</span><span class="c" style="left:557px;width:60px;text-align:right">.962</span><span class="c" style="left:588.5px;width:60px;text-align:right">173</span><span class="c" style="left:617.2px;width:60px;text-align:right">2.7</span></div>
<div class="tr" style="top:650px;background:#fff"><span class="c" style="left:-14.800000000000011px;width:120px;text-align:center">2013</span><span class="c" style="left:49.39999999999998px;width:120px;text-align:center">GLE</span><span class="c" style="left:89.69999999999999px;width:120px;text-align:center">AAA</span><span class="c" style="left:132px;width:60px;text-align:right">38</span><span class="c" style="left:157.70000000000005px;width:60px;text-align:right">34</span><span class="c" style="left:183.70000000000005px;width:60px;text-align:right">142</span><span class="c" style="left:210px;width:60px;text-align:right">129</span><span class="c" style="left:236px;width:60px;text-align:right">14</span><span class="c" style="left:262px;width:60px;text-align:right">25</span><span class="c" style="left:283px;width:60px;text-align:right">5</span><span class="c" style="left:302px;width:60px;text-align:right">0</span><span class="c" style="left:322.79999999999995px;width:60px;text-align:right">1</span><span class="c" style="left:348px;width:60px;text-align:right">7</span><span class="c" style="left:375px;width:60px;text-align:right">12</span><span class="c" style="left:400.70000000000005px;width:60px;text-align:right">24</span><span class="c" style="left:421px;width:60px;text-align:right">0</span><span class="c" style="left:440.70000000000005px;width:60px;text-align:right">4</span><span class="c" style="left:470.5px;width:60px;text-align:right">.194</span><span class="c" style="left:499.20000000000005px;width:60px;text-align:right">.261</span><span class="c" style="left:528.2px;width:60px;text-align:right">.256</span><span class="c" style="left:557px;width:60px;text-align:right">.516</span><span class="c" style="left:588.5px;width:60px;text-align:right">41</span><span class="c" style="left:617.2px;width:60px;text-align:right">-0.7</span></div>
<div class="tr" style="top:666px;background:#f0f0f0"><span class="c" style="left:-14.800000000000011px;width:120px;text-align:center">2013</span><span class="c" style="left:49.39999999999998px;width:120px;text-align:center">CIN</span><span class="c" style="left:89.69999999999999px;width:120px;text-align:center">ABL</span><span class="c" style="left:132px;width:60px;text-align:right">22</span><span class="c" style="left:157.70000000000005px;width:60px;text-align:right">3</span><span class="c" style="left:183.70000000000005px;width:60px;text-align:right">28</span><span class="c" style="left:210px;width:60px;text-align:right">27</span><span class="c" style="left:236px;width:60px;text-align:right">5</span><span class="c" style="left:262px;width:60px;text-align:right">12</span><span class="c" style="left:283px;width:60px;text-align:right">2</span><span class="c" style="left:302px;width:60px;text-align:right">1</span><span class="c" style="left:322.79999999999995px;width:60px;text-align:right">0</span><span class="c" style="left:348px;width:60px;text-align:right">5</span><span class="c" style="left:375px;width:60px;text-align:right">0</span><span class="c" style="left:400.70000000000005px;width:60px;text-align:right">2</span><span class="c" style="left:421px;width:60px;text-align:right">0</span><span class="c" style="left:440.70000000000005px;width:60px;text-align:right">1</span><span class="c" style="left:470.5px;width:60px;text-align:right">.444</span><span class="c" style="left:499.20000000000005px;width:60px;text-align:right">.464</span><span class="c" style="left:528.2px;width:60px;text-align:right">.593</span><span class="c" style="left:557px;width:60px;text-align:right">1.057</span><span class="c" style="left:588.5px;width:60px;text-align:right">193</span><span class="c" style="left:617.2px;width:60px;text-align:right">0.3</span></div>
<div class="tr" style="top:682px;background:#fff"><span class="c" style="left:-14.800000000000011px;width:120px;text-align:center">2014</span><span class="c" style="left:49.39999999999998px;width:120px;text-align:center">GLE</span><span class="c" style="left:89.69999999999999px;width:120px;text-align:center">AAA</span><span class="c" style="left:132px;width:60px;text-align:right">57</span><span class="c" style="left:157.70000000000005px;width:60px;text-align:right">24</span><span class="c" style="left:183.70000000000005px;width:60px;text-align:right">139</span><span class="c" style="left:210px;width:60px;text-align:right">116</span><span class="c" style="left:236px;width:60px;text-align:right">26</span><span class="c" style="left:262px;width:60px;text-align:right">32</span><span class="c" style="left:283px;width:60px;text-align:right">8</span><span class="c" style="left:302px;width:60px;text-align:right">1</span><span class="c" style="left:322.79999999999995px;width:60px;text-align:right">3</span><span class="c" style="left:348px;width:60px;text-align:right">21</span><span class="c" style="left:375px;width:60px;text-align:right">17</span><span class="c" style="left:400.70000000000005px;width:60px;text-align:right">18</span><span class="c" style="left:421px;width:60px;text-align:right">2</span><span class="c" style="left:440.70000000000005px;width:60px;text-align:right">3</span><span class="c" style="left:470.5px;width:60px;text-align:right">.276</span><span class="c" style="left:499.20000000000005px;width:60px;text-align:right">.372</span><span class="c" style="left:528.2px;width:60px;text-align:right">.440</span><span class="c" style="left:557px;width:60px;text-align:right">.812</span><span class="c" style="left:588.5px;width:60px;text-align:right">123</span><span class="c" style="left:617.2px;width:60px;text-align:right">0.7</span></div>
<div class="tr" style="top:698px;background:#f0f0f0"><span class="c" style="left:-14.800000000000011px;width:120px;text-align:center">2014</span><span class="c" style="left:49.39999999999998px;width:120px;text-align:center">CIN</span><span class="c" style="left:89.69999999999999px;width:120px;text-align:center">ABL</span><span class="c" style="left:132px;width:60px;text-align:right">15</span><span class="c" style="left:157.70000000000005px;width:60px;text-align:right">2</span><span class="c" style="left:183.70000000000005px;width:60px;text-align:right">20</span><span class="c" style="left:210px;width:60px;text-align:right">17</span><span class="c" style="left:236px;width:60px;text-align:right">5</span><span class="c" style="left:262px;width:60px;text-align:right">7</span><span class="c" style="left:283px;width:60px;text-align:right">3</span><span class="c" style="left:302px;width:60px;text-align:right">1</span><span class="c" style="left:322.79999999999995px;width:60px;text-align:right">0</span><span class="c" style="left:348px;width:60px;text-align:right">2</span><span class="c" style="left:375px;width:60px;text-align:right">2</span><span class="c" style="left:400.70000000000005px;width:60px;text-align:right">5</span><span class="c" style="left:421px;width:60px;text-align:right">0</span><span class="c" style="left:440.70000000000005px;width:60px;text-align:right">0</span><span class="c" style="left:470.5px;width:60px;text-align:right">.412</span><span class="c" style="left:499.20000000000005px;width:60px;text-align:right">.500</span><span class="c" style="left:528.2px;width:60px;text-align:right">.706</span><span class="c" style="left:557px;width:60px;text-align:right">1.206</span><span class="c" style="left:588.5px;width:60px;text-align:right">231</span><span class="c" style="left:617.2px;width:60px;text-align:right">0.3</span></div>
</body></html>
